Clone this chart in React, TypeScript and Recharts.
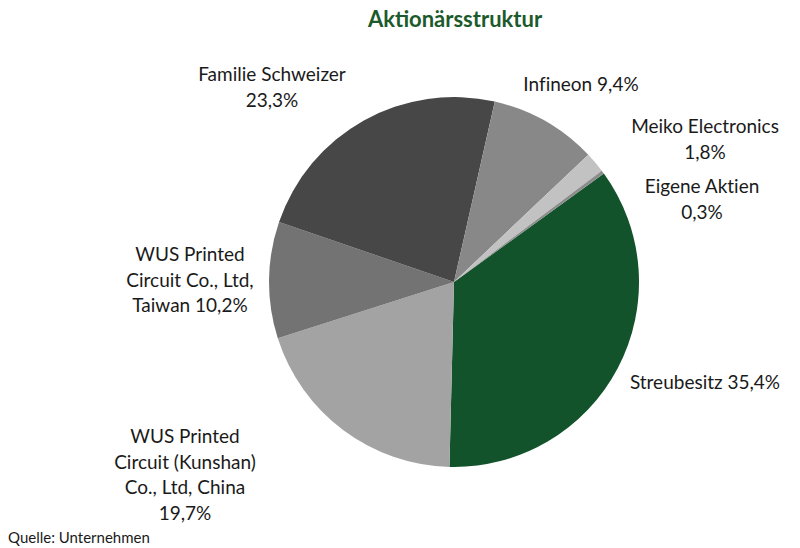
import { PieChart, Pie, Cell } from 'recharts'

const NAMES = [
  'Streubesitz',
  'WUS Printed Circuit (Kunshan) Co., Ltd, China',
  'WUS Printed Circuit Co., Ltd, Taiwan',
  'Familie Schweizer',
  'Infineon',
  'Meiko Electronics',
  'Eigene Aktien',
]
const SHARES = [35.4, 19.7, 10.2, 23.3, 9.4, 1.8, 0.3]
const LABEL_LINES = [
  ['Streubesitz 35,4%'],
  ['WUS Printed', 'Circuit (Kunshan)', 'Co., Ltd, China', '19,7%'],
  ['WUS Printed', 'Circuit Co., Ltd,', 'Taiwan 10,2%'],
  ['Familie Schweizer', '23,3%'],
  ['Infineon 9,4%'],
  ['Meiko Electronics', '1,8%'],
  ['Eigene Aktien', '0,3%'],
]

const COLORS = ['#12532b', '#a3a3a3', '#737373', '#474747', '#888888', '#c2c2c2', '#8c8c8c']
// label block centre (first line baseline) relative to the pie centre
const LABEL_OFFSETS = [
  [251, 107],
  [-269, 161],
  [-264, -21],
  [-182, -201],
  [127, -191],
  [251, -149],
  [248, -89],
]
const LINE_H = 25.5
const FONT = 'Lato, "Open Sans", sans-serif'

const data = NAMES.map((name, i) => ({ name, value: SHARES[i] }))

const renderLabel = (props: any) => {
  const { cx, cy, index } = props
  const [dx, dy] = LABEL_OFFSETS[index]
  const lines = LABEL_LINES[index]
  return (
    <text
      x={cx + dx}
      y={cy + dy}
      textAnchor="middle"
      fill="#1a1a1a"
      fontSize={19}
      fontFamily={FONT}
      style={{ fontVariantLigatures: 'none' }}
    >
      {lines.map((l, k) => (
        <tspan key={k} x={cx + dx} dy={k === 0 ? 0 : LINE_H}>
          {l}
        </tspan>
      ))}
    </text>
  )
}

export default function App() {
  return (
    <div style={{ position: 'absolute', left: 0, top: 0, width: 800, height: 548, background: '#fff' }}>
      <div
        style={{
          position: 'absolute',
          left: 0,
          top: 5,
          width: 910,
          textAlign: 'center',
          fontFamily: FONT,
          fontWeight: 700,
          fontSize: 22,
          color: '#1c5a2c',
        }}
      >
        Aktionärsstruktur
      </div>
      <PieChart width={800} height={548} margin={{ top: 0, right: 0, bottom: 0, left: 0 }}>
        <Pie
          data={data}
          dataKey="value"
          cx={454}
          cy={282}
          outerRadius={185}
          startAngle={35.9}
          endAngle={-324.1}
          stroke="none"
          label={renderLabel}
          labelLine={false}
          isAnimationActive={false}
        >
          {data.map((_, i) => (
            <Cell key={i} fill={COLORS[i]} />
          ))}
        </Pie>
      </PieChart>
      <div
        style={{
          position: 'absolute',
          left: 8,
          top: 528,
          fontFamily: FONT,
          fontSize: 15,
          color: '#1a1a1a',
        }}
      >
        Quelle: Unternehmen
      </div>
    </div>
  )
}
